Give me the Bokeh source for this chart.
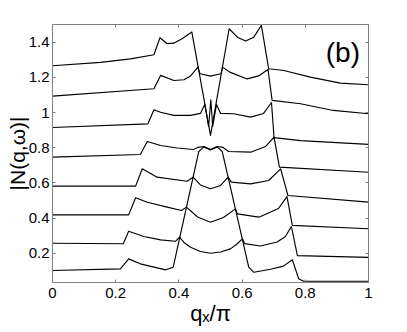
import numpy as np
from bokeh.plotting import figure
from bokeh.models import Range1d, FixedTicker, LinearAxis, Label
from bokeh.embed import file_html
from bokeh.resources import INLINE

# ---- tick values / labels ----
x_ticks = [0.0, 0.2, 0.4, 0.6, 0.8, 1.0]
x_tick_labels = ["0", "0.2", "0.4", "0.6", "0.8", "1"]
y_ticks = [0.2, 0.4, 0.6, 0.8, 1.0, 1.2, 1.4]
y_tick_labels = ["0.2", "0.4", "0.6", "0.8", "1", "1.2", "1.4"]

x_title = "qₓ/π"
y_title = "|N(q,ω)|"
panel_tag = "(b)"

# ---- curves (q_x/pi, |N(q,w)| incl. offset), bottom to top ----
q1 = [0.000, 0.215, 0.241, 0.278, 0.321, 0.358, 0.382, 0.463, 0.479, 0.500, 0.521, 0.537, 0.621, 0.637, 0.690, 0.731, 0.759, 0.779, 0.795, 1.000]
n1 = [0.103, 0.112, 0.169, 0.141, 0.122, 0.107, 0.122, 0.779, 0.805, 0.788, 0.805, 0.779, 0.122, 0.093, 0.110, 0.128, 0.164, 0.056, 0.042, 0.042]

q2 = [0.000, 0.224, 0.241, 0.289, 0.342, 0.389, 0.402, 0.418, 0.437, 0.468, 0.500, 0.532, 0.563, 0.582, 0.601, 0.608, 0.658, 0.711, 0.737, 0.756, 0.775, 1.000]
n2 = [0.258, 0.255, 0.326, 0.296, 0.277, 0.269, 0.292, 0.259, 0.235, 0.211, 0.201, 0.208, 0.226, 0.251, 0.283, 0.256, 0.242, 0.265, 0.296, 0.353, 0.188, 0.178]

q3 = [0.000, 0.241, 0.263, 0.300, 0.363, 0.408, 0.424, 0.459, 0.500, 0.541, 0.579, 0.585, 0.653, 0.715, 0.742, 0.759, 1.000]
n3 = [0.419, 0.419, 0.516, 0.491, 0.463, 0.444, 0.463, 0.407, 0.377, 0.404, 0.453, 0.425, 0.406, 0.455, 0.523, 0.359, 0.340]

q4 = [0.000, 0.263, 0.284, 0.331, 0.426, 0.445, 0.468, 0.500, 0.532, 0.556, 0.566, 0.627, 0.684, 0.722, 0.745, 1.000]
n4 = [0.582, 0.582, 0.681, 0.633, 0.610, 0.633, 0.589, 0.567, 0.586, 0.633, 0.605, 0.595, 0.614, 0.680, 0.529, 0.491]

q5 = [0.000, 0.278, 0.300, 0.342, 0.395, 0.446, 0.460, 0.479, 0.500, 0.521, 0.540, 0.557, 0.627, 0.674, 0.701, 0.718, 1.000]
n5 = [0.747, 0.762, 0.836, 0.813, 0.799, 0.790, 0.802, 0.807, 0.790, 0.807, 0.802, 0.779, 0.775, 0.807, 0.861, 0.690, 0.661]

q6 = [0.000, 0.302, 0.321, 0.342, 0.384, 0.437, 0.468, 0.482, 0.494, 0.501, 0.507, 0.519, 0.532, 0.574, 0.627, 0.668, 0.693, 0.701, 0.785, 1.000]
n6 = [0.915, 0.936, 1.016, 1.002, 0.984, 0.984, 0.995, 1.046, 0.921, 1.072, 0.921, 1.046, 0.995, 0.993, 0.974, 0.995, 1.057, 0.858, 0.841, 0.819]

q7 = [0.000, 0.321, 0.342, 0.384, 0.416, 0.437, 0.460, 0.467, 0.500, 0.533, 0.538, 0.563, 0.616, 0.652, 0.682, 0.695, 0.785, 0.889, 1.000]
n7 = [1.093, 1.135, 1.211, 1.182, 1.186, 1.208, 1.258, 1.220, 1.207, 1.220, 1.258, 1.228, 1.191, 1.208, 1.245, 1.069, 1.050, 1.012, 0.993]

q8 = [0.000, 0.152, 0.247, 0.321, 0.340, 0.363, 0.384, 0.410, 0.441, 0.500, 0.559, 0.585, 0.611, 0.637, 0.661, 0.684, 0.732, 0.816, 0.911, 1.000]
n8 = [1.266, 1.285, 1.305, 1.328, 1.425, 1.391, 1.394, 1.419, 1.457, 0.870, 1.476, 1.428, 1.406, 1.428, 1.495, 1.249, 1.239, 1.201, 1.167, 1.158]

curves = [(q1, n1), (q2, n2), (q3, n3), (q4, n4), (q5, n5), (q6, n6), (q7, n7), (q8, n8)]

AXIS_GRAY = "#808080"
FONT = "Liberation Sans"

# frame: 316 x 258 px, placed at (52, 24) in the page
p = figure(width=400, height=330,
           x_range=Range1d(0, 1), y_range=Range1d(0.035, 1.5),
           output_backend="svg", toolbar_location=None,
           min_border_left=52, min_border_right=32,
           min_border_top=24, min_border_bottom=48)
p.grid.visible = False
p.outline_line_color = AXIS_GRAY
p.background_fill_color = "white"
p.border_fill_color = "white"

for q, n in curves:
    p.line(q, n, line_color="black", line_width=1.15, line_join="round")

def style_axis(ax, ticks, labels, show_labels):
    ax.ticker = FixedTicker(ticks=ticks)
    ax.axis_line_color = AXIS_GRAY
    ax.major_tick_line_color = AXIS_GRAY
    ax.major_tick_in = 3
    ax.major_tick_out = 0
    ax.minor_tick_line_color = None
    if show_labels:
        ax.major_label_overrides = {t: s for t, s in zip(ticks, labels)}
        ax.major_label_text_font = FONT
        ax.major_label_text_font_size = "15px"
        ax.major_label_text_color = "black"
    else:
        ax.major_label_text_color = None
        ax.major_label_text_font_size = "1px"
        ax.major_label_standoff = 0

xa = p.xaxis[0]
style_axis(xa, x_ticks, x_tick_labels, True)
xa.major_label_standoff = 5
xa.axis_label = x_title
xa.axis_label_text_font = FONT
xa.axis_label_text_font_size = "22px"
xa.axis_label_text_font_style = "normal"
xa.axis_label_text_color = "black"
xa.axis_label_standoff = 0

ya = p.yaxis[0]
style_axis(ya, y_ticks, y_tick_labels, True)
ya.major_label_standoff = 3
ya.axis_label = y_title
ya.axis_label_text_font = FONT
ya.axis_label_text_font_size = "21px"
ya.axis_label_text_font_style = "normal"
ya.axis_label_text_color = "black"
ya.axis_label_standoff = -3

top_ax = LinearAxis()
style_axis(top_ax, x_ticks, x_tick_labels, False)
p.add_layout(top_ax, "above")
right_ax = LinearAxis()
style_axis(right_ax, y_ticks, y_tick_labels, False)
p.add_layout(right_ax, "right")

p.add_layout(Label(x=0.919, y=1.339, text=panel_tag, text_align="center", text_baseline="middle",
                   text_font=FONT, text_font_size="28px", text_color="black"))

open("out.html", "w").write(file_html(p, INLINE))
